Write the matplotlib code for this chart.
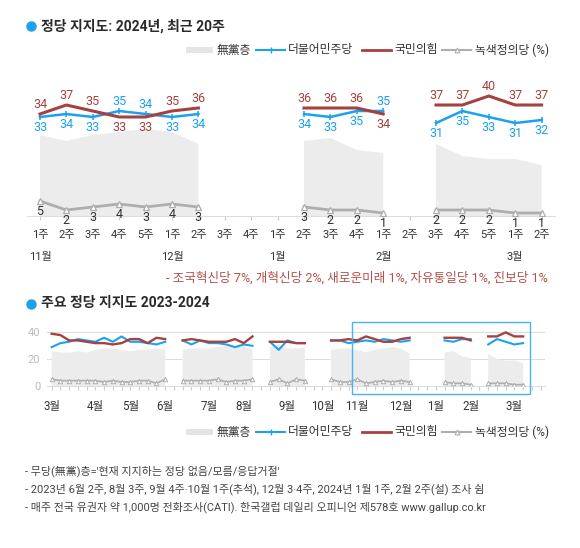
import numpy as np
import matplotlib
matplotlib.use('Agg')
import matplotlib.pyplot as plt
from matplotlib.patches import Rectangle

plt.rcParams['font.family'] = ['Roboto', 'Noto Sans CJK KR', 'DejaVu Sans']

nan = np.nan

# 최근 20주 (2023년 11월 1주 ~ 2024년 3월 2주)
weeks_top = ['1주', '2주', '3주', '4주', '5주', '1주', '2주', '3주', '4주',
             '1주', '2주', '3주', '4주', '1주', '2주', '3주', '4주', '5주', '1주', '2주']
months_top = ['11월', '12월', '1월', '2월', '3월']
dem_top = [33, 34, 33, 35, 34, 33, 34, nan, nan, nan, 34, 33, 35, 35, nan, 31, 35, 33, 31, 32]
ppp_top = [34, 37, 35, 33, 33, 35, 36, nan, nan, nan, 36, 36, 36, 34, nan, 37, 37, 40, 37, 37]
jus_top = [5, 2, 3, 4, 3, 4, 3, nan, nan, nan, 3, 2, 2, 1, nan, 2, 2, 2, 1, 1]
none_top = [27, 25, 27, 28, 29, 28, 24, nan, nan, nan, 25, 26, 22, 21, nan, 24, 20, 19, 19, 17]

# 2023년 3월 1주 ~ 10월 4주 (그 뒤는 위의 20주)
months_bot = ['3월', '4월', '5월', '6월', '7월', '8월', '9월', '10월', '11월', '12월', '1월', '2월', '3월']
weeks_per_month = [5, 4, 4, 5, 4, 5, 4, 4, 5, 4, 4, 5, 2]
dem_early = [29, 32, 33, 35, 34, 33, 36, 33, 37, 33, 33, 32, 31, 33, nan,
             34, 31, 34, 32, 32, 31, 29, 31, 30, nan,
             33, 27, 34, 32, 32, nan, nan, 34, 34, 32]
ppp_early = [39, 38, 34, 34, 33, 32, 32, 31, 32, 35, 35, 32, 36, 35, nan,
             34, 35, 34, 33, 33, 33, 35, 32, 37, nan,
             33, 33, 33, 32, 32, nan, nan, 34, 34, 35]
jus_early = [5, 4, 4, 4, 4, 4, 3, 4, 3, 3, 4, 4, 2, 5, nan,
             4, 4, 4, 4, 5, 3, 4, 4, 5, nan,
             3, 5, 2, 5, 4, nan, nan, 5, 3, 3]
none_early = [26, 25, 25, 26, 25, 27, 28, 28, 27, 26, 27, 27, 28, 27, nan,
              27, 28, 28, 28, 29, 30, 30, 29, 28, nan,
              29, 31, 28, 28, 29, nan, nan, 27, 28, 28]
dem_bot = dem_early + dem_top
ppp_bot = ppp_early + ppp_top
jus_bot = jus_early + jus_top
none_bot = none_early + none_top

notes = ["- 무당(無黨)층='현재 지지하는 정당 없음/모름/응답거절'",
         "- 2023년 6월 2주, 8월 3주, 9월 4주·10월 1주(추석), 12월 3·4주, 2024년 1월 1주, 2월 2주(설) 조사 쉼",
         "- 매주 전국 유권자 약 1,000명 전화조사(CATI). 한국갤럽 데일리 오피니언 제578호 www.gallup.co.kr"]
others = "- 조국혁신당 7%, 개혁신당 2%, 새로운미래 1%, 자유통일당 1%, 진보당 1%"

BLUE = '#1ba1f0'
RED = '#a5423f'
GRAY = '#aeaeae'
AREA = '#ececec'
TXT = '#333333'

W, H = 580, 548
fig = plt.figure(figsize=(W / 100, H / 100), dpi=100)


def px_rect(left, right, top, bottom):
    return [left / W, 1 - bottom / H, (right - left) / W, (bottom - top) / H]


# 글자, 범례용 전체 축 (픽셀 좌표)
ov = fig.add_axes([0, 0, 1, 1])
ov.set_xlim(0, W)
ov.set_ylim(H, 0)
ov.axis('off')


def title(y, s):
    ov.plot([31], [y], 'o', color=BLUE, ms=6.5)
    ov.text(41, y, s, va='center', fontsize=10, color='#2a2a2a', fontweight='bold')


def legend(y):
    fs = 8.5
    ov.add_patch(Rectangle((186, y - 3), 27, 6, color='#e4e4e4', lw=0))
    ov.text(217, y, '無黨층', va='center', fontsize=fs, color=TXT)
    ov.plot([256, 285], [y, y], color=BLUE, lw=1.5)
    ov.plot([270.5], [y], marker='|', color=BLUE, ms=4, mew=1)
    ov.text(288, y, '더불어민주당', va='center', fontsize=fs, color=TXT)
    ov.plot([362, 391], [y, y], color=RED, lw=2)
    ov.text(394, y, '국민의힘', va='center', fontsize=fs, color=TXT)
    ov.plot([442, 471], [y, y], color=GRAY, lw=1.5)
    ov.plot([456.5], [y], marker='^', ms=3.5, mfc='white', mec=GRAY, mew=0.8)
    ov.text(475, y, '녹색정의당 (%)', va='center', fontsize=fs, color=TXT)


title(26, '정당 지지도: 2024년, 최근 20주')
legend(50)
title(303.5, '주요 정당 지지도 2023-2024')
legend(432)
ov.text(548, 278, others, ha='right', va='center', fontsize=9.1, color='#b4514b')
for k, s in enumerate(notes):
    ov.text(25, 471 + k * 18, s, va='center', fontsize=7.9, color='#444444')


def style_axis(ax, n_ticks):
    for side in ['top', 'right', 'left']:
        ax.spines[side].set_visible(False)
    ax.spines['bottom'].set_color('#dddddd')
    ax.set_xticks(range(n_ticks))
    ax.set_xticklabels([])
    ax.tick_params(axis='x', direction='out', length=3, color='#cccccc', width=0.8)
    ax.patch.set_visible(False)


# ---- 위: 최근 20주 ----
n = len(weeks_top)
x = np.arange(n)
ax1 = fig.add_axes(px_rect(40 - 0.5 * 26.4, 40 + (n - 0.5) * 26.4, 216 - 45 * 3, 216))
ax1.set_xlim(-0.5, n - 0.5)
ax1.set_ylim(0, 45)
style_axis(ax1, n)
ax1.set_yticks([])

d = np.array(dem_top, float)
p = np.array(ppp_top, float)
g = np.array(jus_top, float)
u = np.array(none_top, float)
ok = ~np.isnan(u)
ax1.fill_between(x, 0, np.nan_to_num(u), where=ok, color=AREA, lw=0, zorder=1)
ax1.plot(x, g, color=GRAY, lw=2, marker='^', ms=4.5, mfc='white', mec=GRAY, mew=0.9, zorder=3)
ax1.plot(x, d, color=BLUE, lw=1.8, marker='|', ms=5, mew=1.1, zorder=4)
ax1.plot(x, p, color=RED, lw=2.2, zorder=5)

for i in range(n):
    if np.isnan(d[i]):
        continue
    hi, lo = (p[i], RED), (d[i], BLUE)
    if d[i] > p[i]:
        hi, lo = lo, hi
    ax1.annotate(f'{hi[0]:.0f}', (i, hi[0]), xytext=(0, 7), textcoords='offset points',
                 ha='center', va='center', fontsize=9, color=hi[1])
    ax1.annotate(f'{lo[0]:.0f}', (i, lo[0]), xytext=(0, -7.5), textcoords='offset points',
                 ha='center', va='center', fontsize=9, color=lo[1])
    ax1.annotate(f'{g[i]:.0f}', (i, g[i]), xytext=(0, -7.3), textcoords='offset points',
                 ha='center', va='center', fontsize=9, color=TXT)

month_starts = [i for i, w in enumerate(weeks_top) if w == '1주']
for i, w in enumerate(weeks_top):
    ax1.annotate(w, (i, 0), xycoords=('data', 'axes fraction'), xytext=(0, -13.5),
                 textcoords='offset points', ha='center', va='center', fontsize=8, color=TXT)
for i, m in zip(month_starts, months_top):
    ax1.annotate(m, (i, 0), xycoords=('data', 'axes fraction'), xytext=(0, -29.5),
                 textcoords='offset points', ha='center', va='center', fontsize=8, color=TXT)

# ---- 아래: 2023-2024 ----
nb = len(dem_bot)
xb = np.arange(nb)
sp = 8.73
ax2 = fig.add_axes(px_rect(51.7 - 0.5 * sp, 51.7 + 56.5 * sp, 386 - 45 * 1.34, 386))
ax2.set_xlim(-0.5, 56.5)
ax2.set_ylim(0, 45)
style_axis(ax2, 57)
ax2.set_yticks([0, 20, 40])
ax2.set_yticklabels(['0', '20', '40'], color='#bbbbbb', fontsize=8)
ax2.tick_params(axis='y', length=0, pad=5)
for v in [20, 40]:
    ax2.axhline(v, color='#dddddd', lw=0.8, zorder=0)

db = np.array(dem_bot, float)
pb = np.array(ppp_bot, float)
gb = np.array(jus_bot, float)
ub = np.array(none_bot, float)
okb = ~np.isnan(ub)
ax2.fill_between(xb, 0, np.nan_to_num(ub), where=okb, color=AREA, lw=0, zorder=1)
ax2.plot(xb, gb, color=GRAY, lw=1.2, marker='^', ms=3.2, mfc='white', mec=GRAY, mew=0.7, zorder=3)
ax2.plot(xb, db, color=BLUE, lw=1.5, zorder=4)
ax2.plot(xb, pb, color=RED, lw=1.7, zorder=5)

starts = np.cumsum([0] + weeks_per_month[:-1])
for i, m in zip(starts, months_bot):
    ax2.annotate(m, (i, 0), xycoords=('data', 'axes fraction'), xytext=(0, -14.5),
                 textcoords='offset points', ha='center', va='center', fontsize=8.3, color=TXT)

# 최근 20주 구간 표시
first = nb - n
ax2.add_patch(Rectangle((first - 0.6, -6), (nb - 1) - first + 1.4, 53.8, fill=False,
                        ec='#4db3f0', lw=1, clip_on=False, zorder=6))

fig.savefig('out.png', dpi=100)
